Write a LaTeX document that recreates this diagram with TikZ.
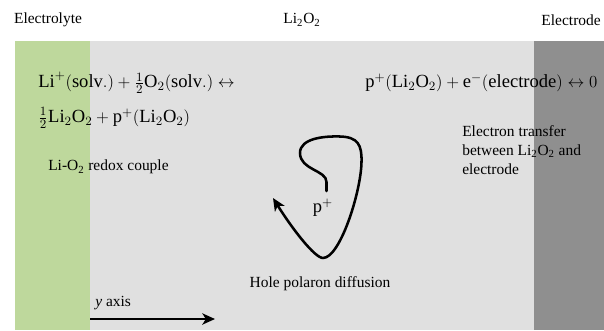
\documentclass[tikz,border=0pt]{standalone}
\usepackage{fontspec}
\setmainfont{Liberation Serif}
\usetikzlibrary{arrows.meta}

\definecolor{electrolytegreen}{RGB}{190,216,156}
\definecolor{oxidegray}{RGB}{224,224,224}
\definecolor{electrodegray}{RGB}{143,143,143}

\tikzset{
    plain text/.style={font=\fontsize{11}{13.6}\selectfont, inner sep=0pt},
    formula/.style={font=\fontsize{13.2}{16}\selectfont, inner sep=0pt},
    flow/.style={line width=1.8pt, line cap=round},
}

\begin{document}
\begin{tikzpicture}[x=0.025cm, y=-0.025cm]
    \useasboundingbox (0,0) rectangle (604,330);

    % the three layers
    \fill[oxidegray] (90,41) rectangle (534,330);
    \fill[electrolytegreen] (15,41) rectangle (90,330);
    \fill[electrodegray] (534,41) rectangle (604,330);

    % titles above the layers
    \node[plain text] (electrolyte) at (48,20) {Electrolyte};
    \node[plain text] (oxide) at (302,20) {Li\textsubscript{2}O\textsubscript{2}};
    \node[plain text, anchor=east] (electrode) at (601,20) {Electrode};

    % reaction at the electrolyte side
    \node[formula, anchor=west] (redox one) at (38,83)
        {$\mathrm{Li}^{+}\bigl(\mathrm{solv.}\bigr)+\frac{1}{2}\mathrm{O}_{2}\bigl(\mathrm{solv.}\bigr)\leftrightarrow$};
    \node[formula, anchor=west] (redox two) at (38,118)
        {$\frac{1}{2}\mathrm{Li}_{2}\mathrm{O}_{2}+\mathrm{p}^{+}\bigl(\mathrm{Li}_{2}\mathrm{O}_{2}\bigr)$};
    \node[plain text, anchor=west] (couple) at (48,167) {Li-O\textsubscript{2} redox couple};

    % reaction at the electrode side (runs off the page)
    \begin{scope}
        \clip (0,0) rectangle (604,330);
        \node[formula, anchor=west] (transfer) at (365,83)
            {$\mathrm{p}^{+}\bigl(\mathrm{Li}_{2}\mathrm{O}_{2}\bigr)+\mathrm{e}^{-}\bigl(\mathrm{electrode}\bigr)\leftrightarrow 0$};
    \end{scope}
    \node[plain text, anchor=west, align=left] (transfer note) at (462,150)
        {Electron transfer\\between Li\textsubscript{2}O\textsubscript{2} and\\electrode};

    % hole polaron path
    \node[formula] (hole) at (323,208) {$\mathrm{p}^{+}$};
    \coordinate (hole start) at (326.5,191);
    \coordinate (hole end) at (273,198);
    \draw[flow, -{Stealth[length=9pt, width=8pt, inset=2.5pt]}] (hole start) -- (326.5,182)
        .. controls (326.5,170) and (300,170) .. (300,153)
        .. controls (300,138) and (325,136) .. (340,136.5)
        .. controls (358,137) and (362,145) .. (361.5,162)
        .. controls (361,192) and (340,258) .. (323,258)
        .. controls (315,258) and (293,230) .. (hole end);
    \node[plain text] (diffusion) at (320,284) {Hole polaron diffusion};

    % axis
    \node[plain text, anchor=west] (axis name) at (95,303) {\textit{y} axis};
    \coordinate (axis start) at (90,319);
    \coordinate (axis end) at (215,319);
    \draw[flow, line cap=butt, -{Stealth[length=9pt, width=8pt, inset=2.5pt]}] (axis start) -- (axis end);
\end{tikzpicture}
\end{document}
